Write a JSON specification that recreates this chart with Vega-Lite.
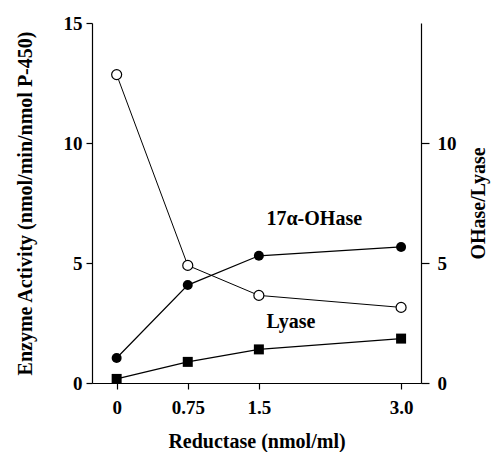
{
  "$schema": "https://vega.github.io/schema/vega-lite/v6.json",
  "autosize": "none",
  "width": 329,
  "height": 360,
  "padding": {"left": 92, "top": 23, "right": 73, "bottom": 69},
  "background": "white",
  "config": {
    "view": {"stroke": null},
    "font": "Liberation Serif",
    "axis": {
      "grid": false,
      "domainColor": "black",
      "tickColor": "black",
      "labelColor": "black",
      "titleColor": "black",
      "labelFont": "Liberation Serif",
      "titleFont": "Liberation Serif",
      "labelFontSize": 19,
      "titleFontSize": 20,
      "labelFontWeight": "bold",
      "titleFontWeight": "bold",
      "tickSize": 6,
      "domainWidth": 1.2,
      "tickWidth": 1.2
    }
  },
  "datasets": {
    "enzyme": [
      {"reductase": 0, "series": "17α-OHase", "activity": 1.04},
      {"reductase": 0.75, "series": "17α-OHase", "activity": 4.08},
      {"reductase": 1.5, "series": "17α-OHase", "activity": 5.3},
      {"reductase": 3.0, "series": "17α-OHase", "activity": 5.67},
      {"reductase": 0, "series": "Lyase", "activity": 0.17},
      {"reductase": 0.75, "series": "Lyase", "activity": 0.88},
      {"reductase": 1.5, "series": "Lyase", "activity": 1.4},
      {"reductase": 3.0, "series": "Lyase", "activity": 1.85}
    ],
    "ratio": [
      {"reductase": 0, "ratio": 12.85},
      {"reductase": 0.75, "ratio": 4.9},
      {"reductase": 1.5, "ratio": 3.65},
      {"reductase": 3.0, "ratio": 3.15}
    ],
    "labels": [
      {"reductase": 1.58, "activity": 6.85, "text": "17α-OHase"},
      {"reductase": 1.58, "activity": 2.55, "text": "Lyase"}
    ]
  },
  "layer": [
    {
      "data": {"name": "enzyme"},
      "layer": [
        {
          "mark": {"type": "line", "color": "black", "strokeWidth": 1.2},
          "encoding": {
            "x": {"field": "reductase", "type": "quantitative"},
            "y": {"field": "activity", "type": "quantitative"},
            "detail": {"field": "series"}
          }
        },
        {
          "mark": {"type": "point", "filled": true, "color": "black", "opacity": 1, "size": 100},
          "encoding": {
            "x": {
              "field": "reductase", "type": "quantitative",
              "scale": {"domain": [-0.26, 3.21], "nice": false, "zero": false},
              "axis": {
                "values": [0, 0.75, 1.5, 3.0],
                "labelExpr": "datum.value == 0 ? '0' : datum.value == 0.75 ? '0.75' : datum.value == 1.5 ? '1.5' : '3.0'",
                "title": "Reductase (nmol/ml)",
                "titlePadding": 14,
                "labelPadding": 9
              }
            },
            "y": {
              "field": "activity", "type": "quantitative",
              "scale": {"domain": [0, 15], "nice": false},
              "axis": {
                "values": [0, 5, 10, 15],
                "title": "Enzyme Activity (nmol/min/nmol P-450)",
                "titlePadding": 28,
                "labelPadding": 4
              }
            },
            "shape": {
              "field": "series", "type": "nominal",
              "scale": {"domain": ["17α-OHase", "Lyase"], "range": ["circle", "square"]},
              "legend": null
            }
          }
        },
        {
          "data": {"name": "labels"},
          "mark": {"type": "text", "font": "Liberation Serif", "fontSize": 20, "fontWeight": "bold", "color": "black", "align": "left", "baseline": "middle"},
          "encoding": {
            "x": {"field": "reductase", "type": "quantitative"},
            "y": {"field": "activity", "type": "quantitative"},
            "text": {"field": "text"}
          }
        }
      ]
    },
    {
      "data": {"name": "ratio"},
      "layer": [
        {
          "mark": {"type": "line", "color": "black", "strokeWidth": 1},
          "encoding": {
            "x": {"field": "reductase", "type": "quantitative"},
            "y": {"field": "ratio", "type": "quantitative"}
          }
        },
        {
          "mark": {"type": "point", "shape": "circle", "filled": true, "fill": "white", "stroke": "black", "strokeWidth": 1.2, "opacity": 1, "size": 100},
          "encoding": {
            "x": {"field": "reductase", "type": "quantitative"},
            "y": {
              "field": "ratio", "type": "quantitative",
              "scale": {"domain": [0, 15], "nice": false},
              "axis": {
                "orient": "right",
                "values": [0, 5, 10],
                "title": "OHase/Lyase",
                "titleAngle": -90,
                "titlePadding": 32,
                "labelPadding": 8,
                "tickSize": 8
              }
            }
          }
        }
      ]
    }
  ],
  "resolve": {"scale": {"y": "independent"}}
}
